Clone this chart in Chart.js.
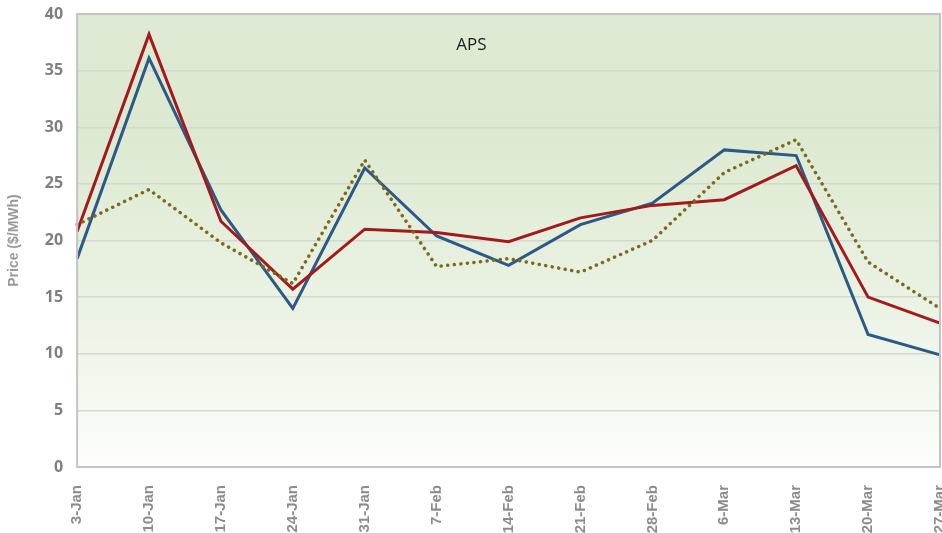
<!DOCTYPE html>
<html lang="en">
<head>
    <meta charset="UTF-8">
    <title>APS - Price ($/MWh)</title>
    <script src="https://cdn.jsdelivr.net/npm/chart.js@4.4.4/dist/chart.umd.min.js"></script>
</head>
<body style="margin: 0; background: #ffffff;">
    <div id="chartContainer" style="width: 942px; height: 533px;">
        <canvas id="priceChart"></canvas>
    </div>

    <script>
        // Weekly dates (x axis)
        const weeks = ['3-Jan', '10-Jan', '17-Jan', '24-Jan', '31-Jan', '7-Feb', '14-Feb',
                       '21-Feb', '28-Feb', '6-Mar', '13-Mar', '20-Mar', '27-Mar'];

        // Series values ($/MWh)
        const redSeries  = [20.8, 38.2, 21.7, 15.7, 21.0, 20.7, 19.9, 22.0, 23.1, 23.6, 26.6, 15.0, 12.7];
        const blueSeries = [18.4, 36.1, 22.7, 14.0, 26.4, 20.4, 17.8, 21.4, 23.3, 28.0, 27.5, 11.7, 9.9];
        const goldSeries = [21.4, 24.5, 19.8, 16.2, 27.1, 17.7, 18.4, 17.2, 20.0, 26.0, 28.9, 18.1, 14.0];

        const yTicks = [0, 5, 10, 15, 20, 25, 30, 35, 40];
        const chartTitle = 'APS';

        // Green gradient behind the plot area, border and the title inside it
        const plotBackground = {
            id: 'plotBackground',
            beforeDraw(chart) {
                const { ctx, chartArea: a } = chart;
                const g = ctx.createLinearGradient(0, a.top, 0, a.bottom);
                g.addColorStop(0, '#dfead4');
                g.addColorStop(0.25, '#dce9d0');
                g.addColorStop(0.7, '#edf4e7');
                g.addColorStop(1, '#fdfefb');
                ctx.save();
                ctx.fillStyle = g;
                ctx.fillRect(a.left, a.top, a.right - a.left, a.bottom - a.top);
                ctx.restore();
            },
            afterDatasetsDraw(chart) {
                const { ctx, chartArea: a } = chart;
                ctx.save();
                ctx.strokeStyle = '#c4c4c4';
                ctx.lineWidth = 2;
                ctx.strokeRect(a.left, a.top, a.right - a.left, a.bottom - a.top);
                ctx.fillStyle = '#1a1a1a';
                ctx.font = '17px "Open Sans", sans-serif';
                ctx.textAlign = 'center';
                ctx.textBaseline = 'middle';
                ctx.fillText(chartTitle, a.left + (a.right - a.left) * 0.457, a.top + 31);
                ctx.restore();
            }
        };

        function initChart() {
            const ctx = document.getElementById('priceChart').getContext('2d');
            new Chart(ctx, {
                type: 'line',
                data: {
                    labels: weeks,
                    datasets: [
                        { label: 'Gold', data: goldSeries, borderColor: '#7d6a1f', borderWidth: 3.5,
                          borderDash: [0.1, 6.5], borderCapStyle: 'round', pointRadius: 0, tension: 0 },
                        { label: 'Red', data: redSeries, borderColor: '#a31a1c', borderWidth: 3,
                          pointRadius: 0, tension: 0 },
                        { label: 'Blue', data: blueSeries, borderColor: '#2c5a87', borderWidth: 3,
                          pointRadius: 0, tension: 0 }
                    ]
                },
                options: {
                    responsive: true,
                    maintainAspectRatio: false,
                    animation: false,
                    layout: { padding: { top: 14, right: 2, left: 6, bottom: 0 } },
                    plugins: { legend: { display: false }, tooltip: { enabled: false } },
                    scales: {
                        x: {
                            offset: false,
                            grid: { display: false },
                            border: { display: false },
                            afterFit: axis => {
                                // let the last label run off the edge like the original
                                axis.paddingLeft = 0;
                                axis.paddingRight = 0;
                                axis.height = 66;
                            },
                            ticks: {
                                color: '#8c8c8c',
                                font: { family: 'Liberation Sans', size: 15, weight: 'bold' },
                                minRotation: 90, maxRotation: 90, autoSkip: false, padding: 10
                            }
                        },
                        y: {
                            min: yTicks[0],
                            max: yTicks[yTicks.length - 1],
                            afterBuildTicks: axis => { axis.ticks = yTicks.map(v => ({ value: v })); },
                            afterFit: axis => {
                                axis.paddingTop = 0;
                                axis.paddingBottom = 0;
                            },
                            grid: { color: '#d4d9cf', lineWidth: 1.5, drawTicks: false },
                            border: { display: false },
                            ticks: {
                                color: '#7f7f7f',
                                font: { family: 'Open Sans', size: 16, weight: 'bold' },
                                padding: 14
                            },
                            title: {
                                display: true,
                                text: 'Price ($/MWh)',
                                color: '#9a9a9a',
                                font: { family: 'Liberation Sans', size: 14, weight: 'bold' },
                                padding: { top: 0, bottom: 8 }
                            }
                        }
                    }
                },
                plugins: [plotBackground]
            });
        }

        window.onload = initChart;
    </script>
</body>
</html>
